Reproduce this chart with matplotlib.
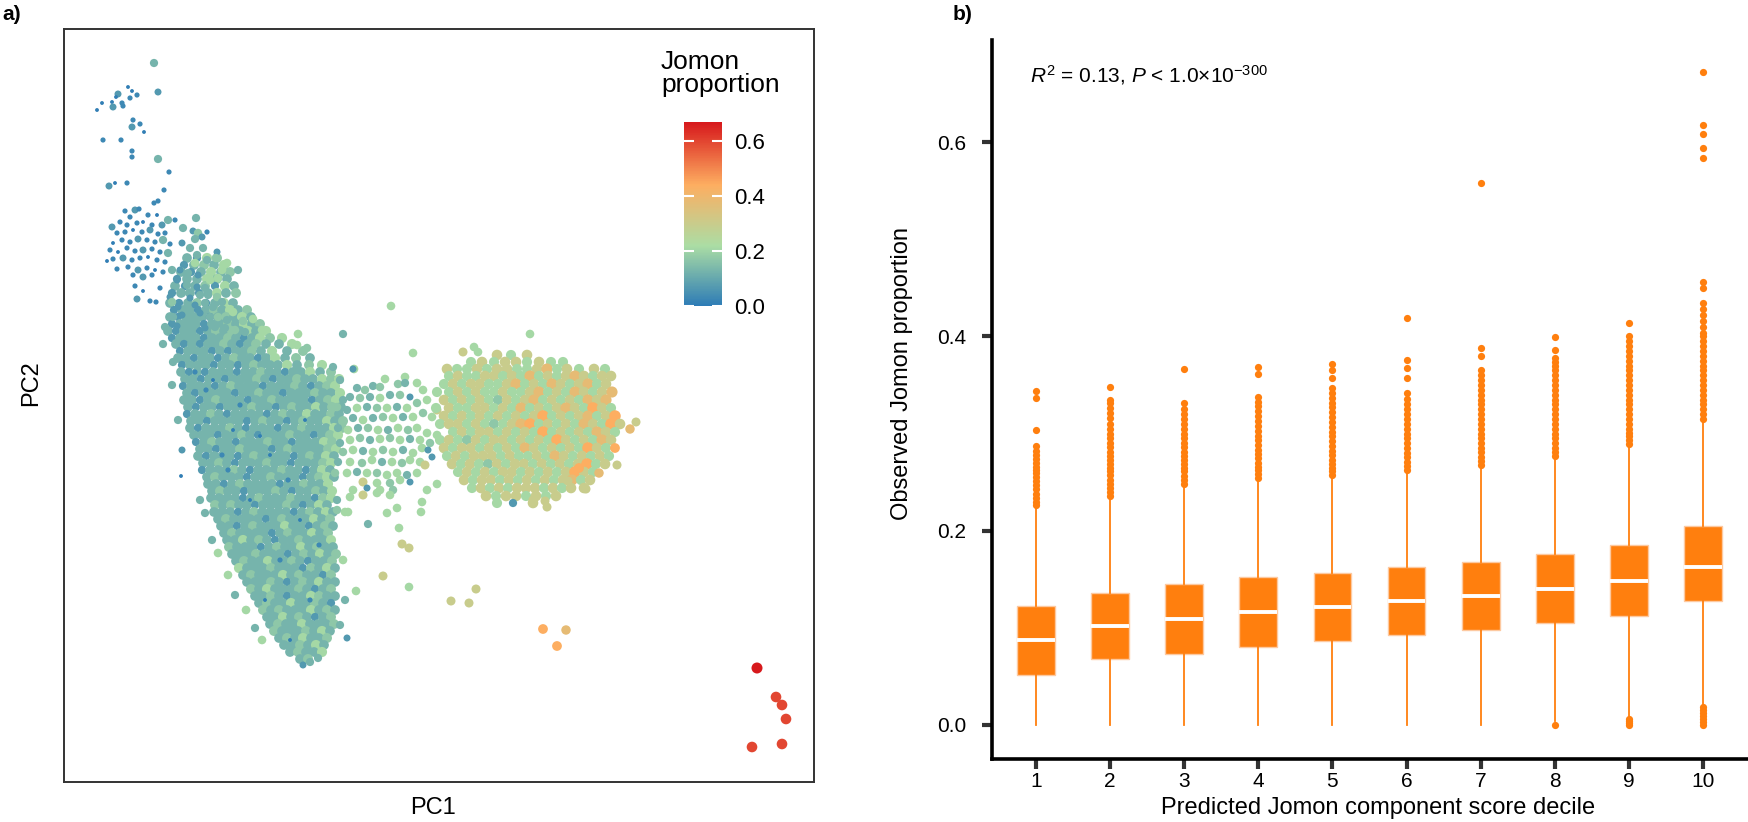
import matplotlib
matplotlib.use("Agg")
import matplotlib.pyplot as plt
import numpy as np
from matplotlib.colors import LinearSegmentedColormap, Normalize
from matplotlib.cm import ScalarMappable

plt.rcParams["font.family"] = ["Liberation Sans", "DejaVu Sans"]
plt.rcParams["mathtext.fontset"] = "custom"
plt.rcParams["mathtext.rm"] = "Liberation Sans"
plt.rcParams["mathtext.it"] = "Liberation Sans:italic"

# ---------------- panel a: PCA points, Jomon proportion read as colour classes ----------------
jomon_class = {"d": 0.01, "B": 0.03, "b": 0.07, "t": 0.13, "u": 0.17, "g": 0.21,
               "k": 0.30, "o": 0.38, "O": 0.44, "r": 0.60, "R": 0.67}

# main (mainland) cloud, read row by row; PC2 runs downwards in these units
cloud_pc2 = [344, 351, 358, 365, 372, 379, 386, 393, 400, 407, 414, 421, 428, 435, 442, 449,
             456, 463, 470, 477, 484, 491, 498, 505, 512, 519, 526, 533, 540, 547, 554, 561,
             568, 575, 582, 589, 596, 603, 610, 617, 624, 631, 638, 645, 652, 659]
cloud_pc1 = [
    [176, 184, 192, 200, 208, 216, 224, 232, 240, 248, 256, 266, 279, 292],
    [180, 188, 196, 204, 212, 220, 228, 236, 244, 252, 261, 272, 287, 303],
    [178, 186, 194, 202, 210, 218, 226, 234, 242, 250, 258, 266, 275, 285, 296, 310],
    [182, 190, 198, 206, 214, 222, 230, 238, 246, 254, 262, 270, 278, 287, 297, 309, 322],
    [181, 189, 197, 205, 213, 221, 229, 237, 245, 253, 261, 269, 277, 285, 293, 301, 310, 320, 331],
    [185, 193, 201, 209, 217, 225, 233, 241, 249, 257, 265, 273, 281, 289, 297, 305, 313, 322, 331, 339],
    [183, 191, 199, 207, 215, 223, 231, 239, 247, 255, 263, 271, 279, 287, 295, 303, 311, 319, 327, 335],
    [187, 195, 203, 211, 219, 227, 235, 243, 251, 259, 267, 275, 283, 291, 299, 307, 315, 323, 331, 340],
    [184, 192, 200, 208, 216, 224, 232, 240, 248, 256, 264, 272, 280, 288, 296, 304, 312, 320, 328, 336],
    [188, 196, 204, 212, 220, 228, 236, 244, 252, 260, 268, 276, 284, 292, 300, 308, 316, 324, 332, 341],
    [187, 195, 203, 211, 219, 227, 235, 243, 251, 259, 267, 275, 283, 291, 299, 307, 315, 323, 331, 339],
    [191, 199, 207, 215, 223, 231, 239, 247, 255, 263, 271, 279, 287, 295, 303, 311, 319, 327, 335, 343],
    [190, 198, 206, 214, 222, 230, 238, 246, 254, 262, 270, 278, 286, 294, 302, 310, 318, 326, 334, 342],
    [194, 202, 210, 218, 226, 234, 242, 250, 258, 266, 274, 282, 290, 298, 306, 314, 322, 330, 338],
    [196, 204, 212, 220, 228, 236, 244, 252, 260, 268, 276, 284, 292, 300, 308, 316, 324, 332],
    [200, 208, 216, 224, 232, 240, 248, 256, 264, 272, 280, 288, 296, 304, 312, 320, 328, 336],
    [198, 206, 214, 222, 230, 238, 246, 254, 262, 270, 278, 286, 294, 302, 310, 318, 326, 334],
    [203, 211, 219, 227, 235, 243, 251, 259, 267, 275, 283, 291, 299, 307, 315, 323, 331],
    [202, 210, 218, 226, 234, 242, 250, 258, 266, 274, 282, 290, 298, 306, 314, 322, 330],
    [207, 215, 223, 231, 239, 247, 255, 263, 271, 279, 287, 295, 303, 311, 319, 327, 334],
    [208, 216, 224, 232, 240, 248, 256, 264, 272, 280, 288, 296, 304, 312, 320, 328],
    [212, 220, 228, 236, 244, 252, 260, 268, 276, 284, 292, 300, 308, 316, 324, 332],
    [211, 219, 227, 235, 243, 251, 259, 267, 275, 283, 291, 299, 307, 315, 323, 331],
    [215, 223, 231, 239, 247, 255, 263, 271, 279, 287, 295, 303, 311, 319, 327],
    [214, 222, 230, 238, 246, 254, 262, 270, 278, 286, 294, 302, 310, 318, 326, 333],
    [218, 226, 234, 242, 250, 258, 266, 274, 282, 290, 298, 306, 314, 322, 330],
    [221, 229, 237, 245, 253, 261, 269, 277, 285, 293, 301, 309, 317, 325, 333],
    [224, 232, 240, 248, 256, 264, 272, 280, 288, 296, 304, 312, 320, 328],
    [227, 235, 243, 251, 259, 267, 275, 283, 291, 299, 307, 315, 323, 331],
    [229, 237, 245, 253, 261, 269, 277, 285, 293, 301, 309, 317, 325, 333],
    [232, 240, 248, 256, 264, 272, 280, 288, 296, 304, 312, 320, 328, 336],
    [236, 244, 252, 260, 268, 276, 284, 292, 300, 308, 316, 324, 332],
    [239, 247, 255, 263, 271, 279, 287, 295, 303, 311, 319, 327, 335],
    [243, 251, 259, 267, 275, 283, 291, 299, 307, 315, 323, 331],
    [247, 255, 263, 271, 279, 287, 295, 303, 311, 319, 327, 335],
    [251, 259, 267, 275, 283, 291, 299, 307, 315, 323, 331],
    [255, 263, 271, 279, 287, 295, 303, 311, 319, 327, 335],
    [259, 267, 275, 283, 291, 299, 307, 315, 323, 331],
    [263, 271, 279, 287, 295, 303, 311, 319, 327, 335],
    [267, 275, 283, 291, 299, 307, 315, 323, 331],
    [270, 278, 286, 294, 302, 310, 318, 326, 334],
    [274, 282, 290, 298, 306, 314, 322, 330],
    [279, 287, 295, 303, 311, 319, 327],
    [284, 292, 300, 308, 316, 324],
    [290, 298, 306, 314, 322],
    [300, 308],
]
cloud_cls = [
    "tbtbttutbtuttg", "btttbtbttutgtu", "ttbttbtuttbtgtut", "btttbttbtutttgtug",
    "tbtbtttbttuttbttgtu", "ttbttbtttutbttuttgug", "btttbtutttbtttutbtug",
    "tbttttbttuttbtttuttg", "ttbtutttbttuttttbtug", "tbttbtttuttbtuttgtut",
    "bttutbttttbtuttgttut", "ttbttttbtuttbtuttgtu", "tbtttutbtttbttutttgu",
    "tttbttutbtttuttbtug", "btuttbtttuttbtttgu", "ttbttutttbtuttttug",
    "tbtttbtuttttbtutgt", "ttutbtttuttbtttug", "btttutbtttuttbtgt",
    "tutttbttutttbtugt", "ttbtuttttbttuttg", "tuttbtttutbttutg",
    "ttttbtutttuttbug", "ututtbtttutbtgt", "tttbtuttttbtutgt",
    "tuttttbtutttgtu", "ttbtutttgttbtut", "tuttttbtuttgtu",
    "ttgtutbttutttg", "utttbtuttgtutt", "tttutttbtutgtu",
    "tuttgttutbttu", "gtttutttbutgt", "tutttgtuttbu", "tttutbtutgtt",
    "utgtttutbtu", "ttutbttgutt", "tuttgttutb", "ututttgtut",
    "ttgtutbtu", "tuttgtttu", "utttutgt", "tutgttu", "ttutgt", "tuttg", "tu",
]

# band joining the small blue group to the cloud, read row by row
band_rows_pc2 = [258, 265, 272, 279, 286, 293, 303, 310, 317, 324, 331, 338]
band_rows_pc1 = [
    [187, 197, 207, 217],
    [184, 194, 204, 214, 224],
    [181, 191, 201, 211, 221, 230],
    [177, 187, 197, 207, 217, 227],
    [175, 185, 195, 205, 215, 225, 234],
    [172, 181, 190, 199, 208, 217, 226, 236],
    [170, 179, 188, 197, 206, 215, 224, 233],
    [174, 182, 190, 198, 206, 214, 222, 230, 238, 247],
    [170, 178, 186, 194, 202, 210, 218, 226, 234, 242, 251],
    [172, 180, 188, 196, 204, 212, 220, 228, 236, 244, 252, 260],
    [168, 176, 184, 192, 200, 208, 216, 224, 232, 240, 248, 256, 266],
    [172, 180, 188, 196, 204, 212, 220, 228, 236, 244, 252, 260, 270, 282],
]
band_rows_cls = ["tbgu", "btutg", "tbtgtu", "bttgut", "tbtubgt", "bttbtgtu", "tbtubtgt",
                 "bttbtutgtu", "tbtttbtutgt", "btttbttutgtu", "tbttbtututgtg", "btttbttutbtgug"]

# stragglers around the main cloud and small dark dots inside it
edge_pc1 = [173, 172, 178, 182, 200, 205, 218, 212, 228, 235, 246, 255, 262, 345, 343, 347,
            345, 340, 303, 310, 318, 181]
edge_pc2 = [362, 385, 420, 450, 500, 513, 553, 540, 575, 595, 610, 628, 640, 600, 560, 638,
            512, 625, 665, 662, 658, 476]
edge_cls = "tttbttgtgtgtgtgbgtbttd"
dots_pc1 = [213, 240, 260, 228, 300, 280, 250, 310, 290, 206, 270, 319, 233, 195, 222, 265, 288, 305]
dots_pc2 = [380, 405, 436, 470, 520, 560, 500, 600, 640, 390, 455, 545, 430, 372, 455, 600, 480, 420]
dots_cls = "dBdBdBdBdBdBdBBdBd"

# sparse points at the top left
top_pc1 = [154, 158, 128, 132, 118, 116, 130, 137, 122, 123, 112, 113, 102, 97, 133, 140, 132,
           144, 103, 121, 132, 132, 158, 169, 109, 115, 127, 164, 154, 158]
top_pc2 = [63, 92, 87, 91, 94, 97, 98, 95, 103, 106, 102, 107, 103, 110, 120, 124, 127, 132,
           140, 140, 151, 157, 159, 172, 186, 183, 183, 190, 203, 201]
top_cls = "tbddbdBBBBdbddBBbdBBBBtBbdBBBB"

# small blue group above the cloud
head_pc1 = [125, 135, 139, 148, 157, 130, 120, 112, 127, 137, 143, 152, 162, 168, 175,
            117, 125, 133, 142, 150, 158, 165,
            113, 122, 130, 138, 147, 155, 163, 170,
            110, 118, 127, 135, 143, 152, 160, 168,
            107, 113, 123, 132, 140, 148, 157, 165,
            117, 128, 138, 147, 155, 163, 172,
            133, 143, 152, 135, 143, 160, 137, 150, 156]
head_pc2 = [211, 210, 209, 215, 215, 217, 222, 227, 225, 223, 222, 225, 225, 220, 220,
            233, 232, 230, 232, 230, 234, 233,
            243, 240, 242, 239, 240, 242, 240, 244,
            250, 252, 248, 251, 250, 249, 252, 253,
            261, 259, 258, 260, 258, 257, 260, 262,
            269, 267, 270, 268, 270, 272, 270,
            275, 277, 275, 286, 291, 288, 299, 301, 302]
head_cls = "BbBBdBBbBBdBbtB" + "BBdBbBB" + "dBBbBBtB" + "BdBBbBBt" + "dBbBBdBB" + "BBbBdBt" + "BbB" + "BdB" + "bBB"

# looser points along the band
band_pc1 = [196, 183, 193, 198, 207, 195, 202, 182, 190, 203, 217, 197, 195, 207, 216, 227, 222,
            238, 180, 188, 198, 210, 218, 177, 187, 197, 205, 170, 182, 190, 200, 208, 217, 172,
            178, 187, 195, 205, 213, 222, 233, 173, 182, 192, 200, 210, 218, 227, 243, 253, 165,
            177, 187, 195, 205, 215, 225, 235, 245, 262, 163, 298, 297, 307, 343, 354]
band_pc2 = [218, 228, 231, 233, 232, 239, 237, 243, 248, 248, 252, 255, 263, 260, 258, 263, 270,
            270, 270, 273, 275, 280, 278, 280, 285, 287, 288, 297, 293, 298, 295, 295, 297, 302,
            307, 307, 305, 303, 307, 302, 312, 317, 315, 317, 313, 317, 317, 320, 321, 319, 327,
            326, 327, 325, 328, 327, 328, 330, 332, 330, 344, 334, 345, 348, 334, 369]
band_cls = "ttbuBtbbttbtgtuggtbtbggbtbtbtbttuubtbtttgtbtbtutugtbttbttutgtggutg"

# bridge between the cloud and the right-hand cluster
bridge_pc1 = [333, 353, 340, 357, 365, 373, 380, 385, 398, 405,
              405, 417, 423, 410, 400, 390, 380, 370, 360, 350,
              343, 337, 347, 357, 367, 377, 387, 397, 407, 417,
              427, 437, 432, 423, 413, 403, 393, 383, 373, 363,
              353, 343, 338, 348, 358, 368, 378, 388, 398, 408,
              417, 427, 437, 430, 420, 410, 400, 390, 380, 370,
              360, 350, 340, 343, 353, 363, 373, 383, 393, 403,
              413, 422, 428, 432, 338, 350, 362, 372, 382, 392,
              402, 410, 420, 425, 335, 347, 357, 367, 377, 387,
              397, 407, 417, 363, 377, 390, 400, 410, 353, 367,
              380, 393, 437, 427, 337, 350, 363, 377, 390, 422,
              397, 387, 348, 337]
bridge_pc2 = [367, 369, 380, 388, 390, 386, 387, 379, 384, 377,
              383, 383, 390, 397, 395, 395, 398, 397, 398, 397,
              400, 407, 410, 408, 407, 408, 408, 407, 408, 403,
              400, 410, 417, 413, 417, 417, 418, 417, 418, 420,
              418, 422, 428, 430, 428, 428, 430, 430, 428, 430,
              428, 433, 435, 443, 440, 439, 440, 438, 439, 440,
              438, 440, 443, 452, 450, 451, 452, 450, 452, 450,
              453, 448, 450, 457, 462, 462, 463, 460, 462, 462,
              463, 460, 462, 465, 473, 473, 472, 473, 473, 475,
              473, 475, 473, 482, 483, 483, 480, 482, 490, 488,
              490, 490, 484, 490, 500, 497, 495, 493, 495, 502,
              508, 513, 512, 510]
bridge_cls = ("tbttutugug" "tggbutgtut" "tutgtugtgu" "gkgugtgutg" "tutgtugtgu" "gggugtgugt"
              "ugtugtgugt" "ggbbtgugtg" "uggkugtgug" "gtgkgugbgb" "guggtgkggg" "gggu")

# right-hand (Jomon-rich) cluster, read row by row
right_pc2 = [355, 362, 369, 376, 384, 392, 400, 408, 416, 424, 432, 440, 448, 456, 464, 472,
             480, 488, 496, 503]
right_pc1 = [
    [497, 511, 527],
    [471, 482, 494, 505, 516, 527, 539, 551, 563],
    [447, 457, 467, 477, 487, 497, 507, 517, 527, 537, 547, 557, 567, 579, 594, 605],
    [449, 458, 467, 476, 485, 494, 503, 512, 521, 530, 539, 548, 557, 566, 575, 584, 593, 602, 611],
    [444, 453, 462, 471, 480, 489, 498, 507, 516, 525, 534, 543, 552, 561, 570, 579, 588, 597, 606],
    [437, 449, 458, 467, 476, 485, 494, 503, 512, 521, 530, 539, 548, 557, 566, 575, 584, 593, 602, 612],
    [444, 453, 462, 471, 480, 489, 498, 507, 516, 525, 534, 543, 552, 561, 570, 579, 588, 597, 606],
    [436, 449, 458, 467, 476, 485, 494, 503, 512, 521, 530, 539, 548, 557, 566, 575, 584, 593, 602, 611],
    [444, 453, 462, 471, 480, 489, 498, 507, 516, 525, 534, 543, 552, 561, 570, 579, 588, 597, 606, 615],
    [440, 449, 458, 467, 476, 485, 494, 503, 512, 521, 530, 539, 548, 557, 566, 575, 584, 593, 602, 611, 620],
    [453, 462, 471, 480, 489, 498, 507, 516, 525, 534, 543, 552, 561, 570, 579, 588, 597, 606, 615],
    [440, 449, 458, 467, 476, 485, 494, 503, 512, 521, 530, 539, 548, 557, 566, 575, 584, 593, 602, 611],
    [444, 453, 462, 471, 480, 489, 498, 507, 516, 525, 534, 543, 552, 561, 570, 579, 588, 597, 606],
    [447, 456, 465, 474, 483, 492, 501, 510, 519, 528, 537, 546, 555, 564, 573, 582, 591, 600, 609],
    [452, 461, 470, 479, 488, 497, 506, 515, 524, 533, 542, 551, 560, 569, 578, 587, 596, 605],
    [458, 467, 476, 485, 494, 503, 512, 521, 530, 539, 548, 557, 566, 575, 584, 593],
    [464, 473, 482, 491, 500, 509, 518, 527, 536, 545, 554, 563, 572, 581, 590],
    [472, 481, 490, 499, 508, 517, 526, 535, 544, 553, 562, 571, 584],
    [486, 496, 506, 516, 526, 536, 546, 556],
    [497, 513, 533],
]
right_cls = [
    "kgk", "gkgkkgkgg", "kggkgkkggkogkgkg", "gkggkkgkgogkgkokgkk", "gkgkkggkogkgokgkogk",
    "ggkgkggkggkogkgokgko", "kgkgkgukgkogkgkgoko", "gkggkkgkgogkgkokgOkg",
    "kgkgkgkgkgkOgkgkogkO", "gkkgkgugkoOgkgkgokgOk", "gkgkkgkgkgOgkgkgokg",
    "gkgukgkkgkgkgOkgkgok", "kgkkgkgkgokgkgkgOkg", "gkgkkkgkggkgokgkgkg",
    "kgkgukgkkgkgkgkOgk", "gkgkgkkgkgkgkOkg", "kgkkgkgkgkgkogk", "gkgkgkkkgkgkk",
    "kgkkgkgk", "gbk",
]

# isolated points (right edge of the cluster, lower scatter, Jomon individuals)
iso_pc1 = [391, 530, 413, 463, 474, 478, 636, 630, 615, 617, 579, 586, 599, 568, 545, 533, 547,
           421, 368, 399, 402, 409, 383, 409, 356, 476, 451, 469, 543, 566, 557,
           757, 776, 782, 786, 752, 782]
iso_pc2 = [306, 334, 353, 352, 347, 352, 422, 429, 448, 465, 468, 489, 473, 481, 501, 500, 507,
           512, 524, 528, 544, 548, 576, 587, 591, 589, 601, 603, 629, 630, 646,
           668, 697, 705, 719, 747, 744]
iso_cls = "gggkggkoOkOkokkkkgtgkkkggkkkOoORrrrrr"

# ---------------- panel b: box plot summaries per decile ----------------
decile = [1, 2, 3, 4, 5, 6, 7, 8, 9, 10]
box_q1 = [0.051, 0.068, 0.073, 0.080, 0.086, 0.093, 0.098, 0.105, 0.112, 0.128]
box_med = [0.087, 0.102, 0.109, 0.116, 0.121, 0.128, 0.133, 0.140, 0.148, 0.163]
box_q3 = [0.122, 0.136, 0.145, 0.152, 0.156, 0.163, 0.168, 0.176, 0.185, 0.205]
whisker_lo = [0.0, 0.0, 0.0, 0.0, 0.0, 0.0, 0.0, 0.004, 0.009, 0.020]
whisker_hi = [0.225, 0.235, 0.247, 0.253, 0.256, 0.262, 0.267, 0.276, 0.288, 0.314]
outliers = [
    [0.226, 0.230, 0.234, 0.238, 0.243, 0.247, 0.251, 0.255, 0.259, 0.263, 0.266, 0.270, 0.274,
     0.278, 0.282, 0.287, 0.304, 0.337, 0.344],
    [0.236, 0.240, 0.244, 0.248, 0.252, 0.257, 0.261, 0.265, 0.269, 0.273, 0.277, 0.281, 0.286,
     0.290, 0.295, 0.300, 0.305, 0.310, 0.316, 0.321, 0.326, 0.331, 0.335, 0.348],
    [0.248, 0.252, 0.256, 0.261, 0.265, 0.269, 0.273, 0.277, 0.281, 0.286, 0.290, 0.295, 0.300,
     0.305, 0.310, 0.315, 0.320, 0.325, 0.331, 0.366],
    [0.254, 0.258, 0.262, 0.266, 0.270, 0.275, 0.279, 0.283, 0.288, 0.293, 0.298, 0.303, 0.308,
     0.313, 0.318, 0.323, 0.328, 0.333, 0.338, 0.361, 0.369],
    [0.257, 0.261, 0.265, 0.269, 0.273, 0.278, 0.282, 0.287, 0.292, 0.297, 0.302, 0.307, 0.312,
     0.317, 0.322, 0.327, 0.332, 0.337, 0.342, 0.347, 0.357, 0.365, 0.372],
    [0.263, 0.267, 0.271, 0.276, 0.280, 0.285, 0.290, 0.295, 0.300, 0.305, 0.310, 0.315, 0.320,
     0.325, 0.330, 0.336, 0.342, 0.357, 0.368, 0.376, 0.419],
    [0.268, 0.272, 0.276, 0.281, 0.285, 0.290, 0.295, 0.300, 0.305, 0.310, 0.315, 0.320, 0.325,
     0.330, 0.335, 0.340, 0.345, 0.350, 0.355, 0.360, 0.365, 0.380, 0.388, 0.558],
    [0.0, 0.277, 0.281, 0.285, 0.290, 0.295, 0.300, 0.305, 0.310, 0.315, 0.320, 0.325, 0.330,
     0.335, 0.340, 0.345, 0.350, 0.355, 0.360, 0.365, 0.370, 0.374, 0.378, 0.386, 0.399],
    [0.0, 0.002, 0.004, 0.006, 0.289, 0.293, 0.297, 0.301, 0.305, 0.310, 0.315, 0.320, 0.325,
     0.330, 0.335, 0.340, 0.345, 0.350, 0.355, 0.360, 0.365, 0.370, 0.375, 0.380, 0.385, 0.390,
     0.395, 0.401, 0.414],
    [0.0, 0.003, 0.006, 0.009, 0.012, 0.015, 0.018, 0.315, 0.320, 0.325, 0.330, 0.335, 0.340,
     0.345, 0.350, 0.355, 0.360, 0.365, 0.370, 0.375, 0.380, 0.385, 0.390, 0.395, 0.400, 0.404,
     0.410, 0.416, 0.422, 0.428, 0.434, 0.450, 0.456, 0.584, 0.594, 0.608, 0.618, 0.672],
]
yticks_b = [0.0, 0.2, 0.4, 0.6]
stat_text = r"$\mathit{R}^{2}$ = 0.13, $\mathit{P}$ < 1.0×10$^{-300}$"


# ---------------- assemble panel a points ----------------
def add_rows(pts, ys, x_rows, cls_rows, dense):
    for y, xs, cs in zip(ys, x_rows, cls_rows):
        assert len(xs) == len(cs), ("row", y)
        for x, c in zip(xs, cs):
            pts.append((x, y, jomon_class[c], dense))


def add_list(pts, xs, ys, cs):
    assert len(xs) == len(ys) == len(cs), (len(xs), len(ys), len(cs))
    for x, y, c in zip(xs, ys, cs):
        pts.append((x, y, jomon_class[c], False))


pts = []
add_rows(pts, band_rows_pc2, band_rows_pc1, band_rows_cls, True)
add_rows(pts, cloud_pc2, cloud_pc1, cloud_cls, True)
add_list(pts, edge_pc1, edge_pc2, edge_cls)
add_list(pts, dots_pc1, dots_pc2, dots_cls)
add_list(pts, top_pc1, top_pc2, top_cls)
add_list(pts, head_pc1, head_pc2, head_cls)
add_list(pts, band_pc1, band_pc2, band_cls)
add_list(pts, bridge_pc1, bridge_pc2, bridge_cls)
add_rows(pts, right_pc2, right_pc1, right_cls, True)
add_list(pts, iso_pc1, iso_pc2, iso_cls)
pc1 = np.array([p[0] for p in pts])
pc2 = np.array([p[1] for p in pts])
jomon = np.array([p[2] for p in pts])
dense = np.array([p[3] for p in pts])

cmap = LinearSegmentedColormap.from_list(
    "jomon", [(0.0, "#2C7BB6"), (0.33, "#ABDDA4"), (0.66, "#FDAE61"), (1.0, "#D7191C")])
norm = Normalize(0.0, 0.669)
# point diameter (px) grows with the proportion; row-read points stand for many
# overlapping individuals, so they are drawn a little larger
diam = np.interp(jomon, [0.0, 0.05, 0.12, 0.30, 0.67], [3.2, 6.5, 8.2, 9.0, 11.0])
diam = np.where(dense, diam * 1.18, diam)
sizes = (diam * 0.72) ** 2

W, H = 1748, 822
fig = plt.figure(figsize=(W / 100, H / 100), dpi=100)

ax1 = fig.add_axes([64 / W, 1 - 782 / H, 750 / W, 753 / H])
ax1.scatter(pc1, pc2, c=jomon, cmap=cmap, norm=norm, s=sizes, linewidths=0)
ax1.set_xlim(64, 814)
ax1.set_ylim(782, 29)
ax1.set_xticks([])
ax1.set_yticks([])
for sp in ax1.spines.values():
    sp.set_color("#333333")
    sp.set_linewidth(1.4)
fig.text(433 / W, 1 - 808 / H, "PC1", ha="center", va="center", fontsize=17)
fig.text(31 / W, 1 - 383 / H, "PC2", ha="center", va="center", fontsize=17, rotation=90)
fig.text(2 / W, 1 - 14 / H, "a)", ha="left", va="center", fontsize=15, fontweight="bold")

# colour bar legend
cax = fig.add_axes([684 / W, 1 - 306.5 / H, 38 / W, 184 / H])
cb = fig.colorbar(ScalarMappable(norm=norm, cmap=cmap), cax=cax, ticks=yticks_b)
cb.outline.set_visible(False)
cb.ax.minorticks_off()
cb.ax.set_yticklabels([f"{t:.1f}" for t in yticks_b])
cax.yaxis.set_ticks_position("both")
cax.tick_params(direction="in", length=7, width=1.5, color="white", labelcolor="black",
                labelsize=16, pad=9, labelleft=False, labelright=True)
fig.text(661 / W, 1 - 50 / H, "Jomon\nproportion", ha="left", va="top", fontsize=19,
         linespacing=0.95)

# ---------------- panel b ----------------
ax2 = fig.add_axes([991.5 / W, 1 - 759 / H, 756 / W, 719 / H])
stats = []
for i in range(len(decile)):
    stats.append(dict(med=box_med[i], q1=box_q1[i], q3=box_q3[i],
                      whislo=whisker_lo[i], whishi=whisker_hi[i], fliers=outliers[i]))
orange = "#FF7F0E"
ax2.bxp(stats, positions=decile, widths=0.51, patch_artist=True, showcaps=False,
        boxprops=dict(facecolor=orange, edgecolor="#FDC9A0", linewidth=1.0),
        medianprops=dict(color="white", linewidth=2.8, solid_capstyle="butt"),
        whiskerprops=dict(color=orange, linewidth=1.3),
        flierprops=dict(marker="o", markerfacecolor=orange, markeredgecolor="none",
                        markersize=5.2))
ax2.set_xlim(0.4, 10.6)
ax2.set_ylim(-0.0351, 0.7053)
ax2.set_xticks(decile)
ax2.set_xticklabels([str(d) for d in decile])
ax2.set_yticks(yticks_b)
ax2.set_yticklabels([f"{t:.1f}" for t in yticks_b])
for side in ("top", "right"):
    ax2.spines[side].set_visible(False)
for side in ("left", "bottom"):
    ax2.spines[side].set_color("black")
    ax2.spines[side].set_linewidth(2.6)
ax2.tick_params(axis="y", length=7, width=3, color="#333333", labelsize=15, pad=11)
ax2.tick_params(axis="x", length=7.5, width=3, color="#333333", labelsize=15, pad=1.5)

fig.text(1378 / W, 1 - 808 / H, "Predicted Jomon component score decile", ha="center",
         va="center", fontsize=17)
fig.text(902 / W, 1 - 374 / H, "Observed Jomon proportion", ha="center", va="center",
         fontsize=17, rotation=90)
fig.text(1030 / W, 1 - 75 / H, stat_text, ha="left", va="center", fontsize=15)
fig.text(953 / W, 1 - 15 / H, "b)", ha="left", va="center", fontsize=15, fontweight="bold")

fig.savefig("out.png", dpi=100)
